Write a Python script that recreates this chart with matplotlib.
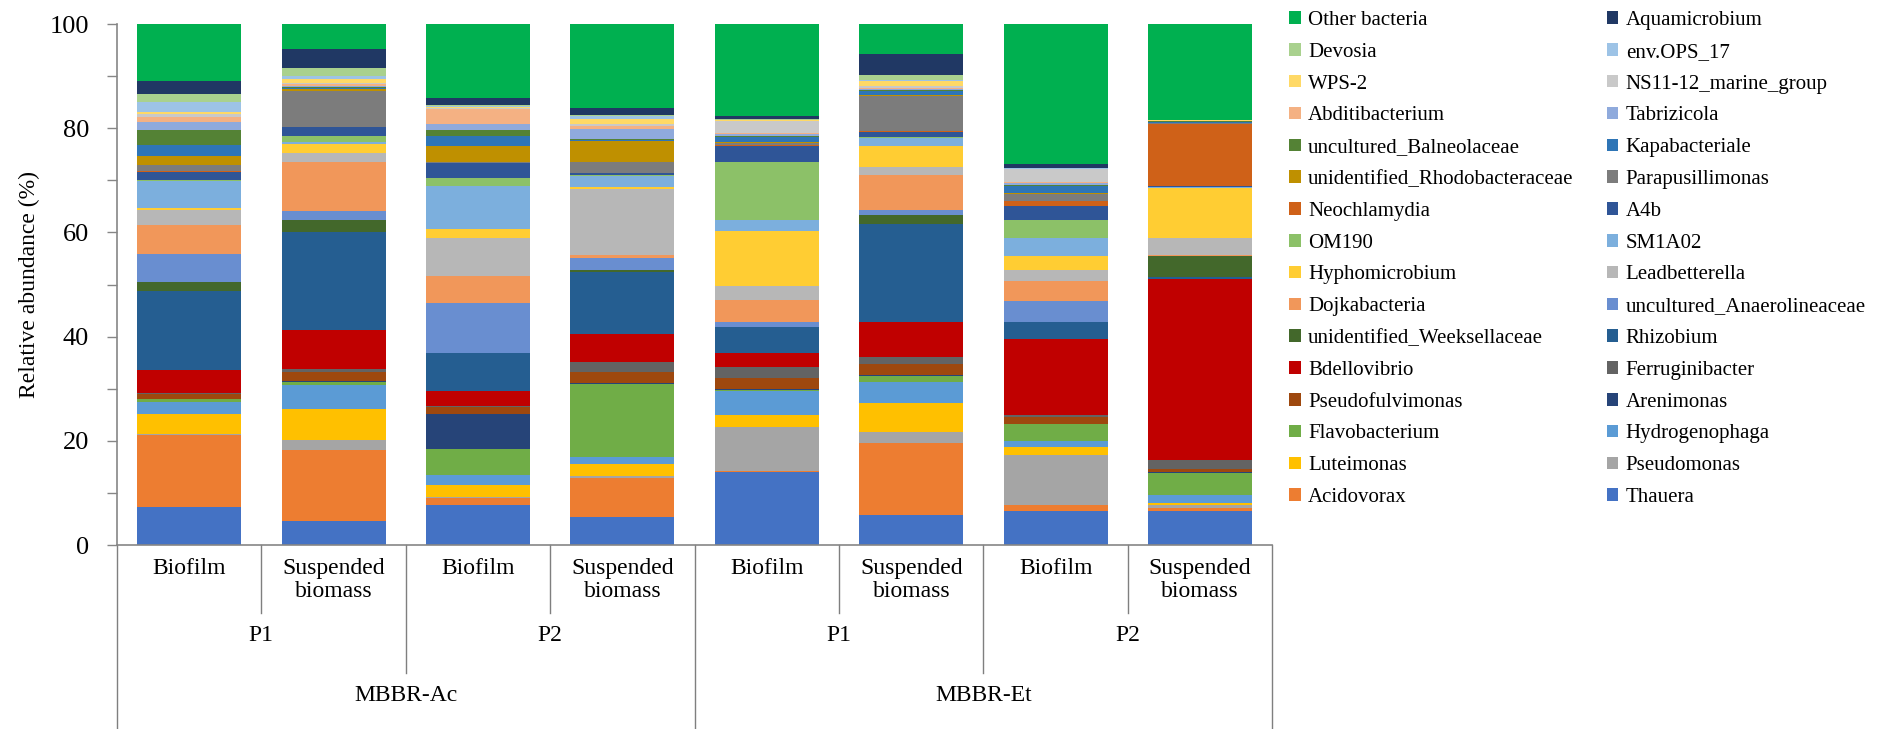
import matplotlib
matplotlib.use("Agg")
import matplotlib.pyplot as plt
from matplotlib.patches import Patch
from matplotlib.ticker import MultipleLocator
import numpy as np

plt.rcParams['font.family'] = 'serif'
plt.rcParams['font.serif'] = ['Liberation Serif', 'Times New Roman', 'DejaVu Serif']

# genera from the bottom of each stack to the top
genera = ["Thauera", "Acidovorax", "Pseudomonas", "Luteimonas", "Hydrogenophaga",
          "Flavobacterium", "Arenimonas", "Pseudofulvimonas", "Ferruginibacter",
          "Bdellovibrio", "Rhizobium", "unidentified_Weeksellaceae",
          "uncultured_Anaerolineaceae", "Dojkabacteria", "Leadbetterella",
          "Hyphomicrobium", "SM1A02", "OM190", "A4b", "Neochlamydia",
          "Parapusillimonas", "unidentified_Rhodobacteraceae", "Kapabacteriale",
          "uncultured_Balneolaceae", "Tabrizicola", "Abditibacterium",
          "NS11-12_marine_group", "WPS-2", "env.OPS_17", "Devosia",
          "Aquamicrobium", "Other bacteria"]

colors = ["#4472C4", "#ED7D31", "#A5A5A5", "#FFC000", "#5B9BD5",
          "#70AD47", "#264478", "#9E480E", "#636363",
          "#C00000", "#255E91", "#43682B",
          "#698ED0", "#F1975A", "#B7B7B7",
          "#FFCD33", "#7CAFDD", "#8CC168", "#2F5597", "#CF6118",
          "#7C7C7C", "#BF9000", "#2E75B6",
          "#548235", "#8FAADC", "#F4B183",
          "#C9C9C9", "#FFD966", "#9DC3E6", "#A9D18E",
          "#203864", "#00B050"]

# relative abundance (%) per sample, same order as genera
ac_p1_biofilm = [7.2, 13.9, 0.2, 3.9, 2.3, 0.5, 0.1, 0.8, 0.3, 4.3, 15.2, 1.7, 5.4, 5.7, 2.8, 0.3,
                 5.2, 0.3, 1.5, 0.2, 1.1, 1.7, 2.2, 2.9, 1.5, 1.0, 0.5, 0.5, 1.8, 1.5, 2.5, 11.0]
ac_p1_suspended = [4.6, 13.6, 2.0, 6.0, 4.6, 0.5, 0.2, 1.8, 0.5, 7.4, 18.8, 2.3, 1.9, 9.4, 1.7, 1.6,
                   0.5, 1.2, 1.6, 0.1, 6.9, 0.4, 0.2, 0.2, 0.2, 0.2, 0.2, 0.8, 0.6, 1.5, 3.7, 4.8]
ac_p2_biofilm = [7.6, 1.4, 0.3, 2.3, 1.8, 5.0, 6.8, 1.3, 0.2, 2.8, 7.3, 0.1, 9.5, 5.2, 7.4, 1.7,
                 8.3, 1.4, 2.9, 0.1, 0.2, 3.0, 2.0, 1.1, 1.1, 2.8, 0.3, 0.2, 0.2, 0.1, 1.5, 14.1]
ac_p2_suspended = [5.4, 7.5, 0.4, 2.3, 1.3, 14.1, 0.1, 2.1, 1.9, 5.4, 12.0, 0.2, 2.3, 0.7, 12.7, 0.3,
                   2.2, 0.2, 0.3, 0.1, 2.0, 4.0, 0.3, 0.2, 1.9, 0.5, 0.5, 0.9, 0.5, 0.2, 1.4, 16.1]
et_p1_biofilm = [14.1, 0.2, 8.4, 2.2, 4.6, 0.3, 0.1, 2.1, 2.2, 2.6, 5.0, 0.1, 0.9, 4.3, 2.6, 10.6,
                 2.0, 11.2, 3.1, 0.1, 0.4, 0.2, 1.1, 0.2, 0.2, 0.2, 2.4, 0.1, 0.1, 0.1, 0.7, 17.6]
et_p1_suspended = [5.8, 13.7, 2.2, 5.5, 4.0, 1.3, 0.1, 2.2, 1.3, 6.7, 18.9, 1.7, 1.0, 6.6, 1.6, 4.0,
                   1.6, 0.2, 0.9, 0.1, 6.8, 0.2, 0.8, 0.1, 0.3, 0.2, 0.3, 0.9, 0.3, 0.9, 4.0, 5.8]
et_p2_biofilm = [6.6, 1.0, 9.6, 1.7, 1.0, 3.3, 0.1, 1.3, 0.3, 14.6, 3.3, 0.1, 3.9, 3.9, 2.0, 2.7,
                 3.6, 3.3, 2.7, 1.0, 1.3, 0.3, 1.4, 0.2, 0.2, 0.3, 2.4, 0.1, 0.1, 0.1, 0.7, 26.9]
et_p2_suspended = [6.6, 0.5, 0.5, 0.5, 1.5, 4.3, 0.1, 0.6, 1.8, 34.7, 0.3, 4.0, 0.1, 0.1, 3.4, 9.6,
                   0.1, 0.1, 0.1, 12.0, 0.1, 0.1, 0.1, 0.1, 0.0, 0.1, 0.0, 0.1, 0.0, 0.0, 0.0, 18.5]

sample_labels = ["Biofilm", "Suspended\nbiomass"] * 4
phase_labels = ["P1", "P2", "P1", "P2"]
reactor_labels = ["MBBR-Ac", "MBBR-Et"]

data = np.array([ac_p1_biofilm, ac_p1_suspended, ac_p2_biofilm, ac_p2_suspended,
                 et_p1_biofilm, et_p1_suspended, et_p2_biofilm, et_p2_suspended]).T

fig = plt.figure(figsize=(18.85, 7.29), dpi=100)
ax = fig.add_axes([0.062, 0.2524, 0.613, 0.7146])

x = np.arange(data.shape[1])
bottom = np.zeros(data.shape[1])
for vals, col, name in zip(data, colors, genera):
    ax.bar(x, vals, bottom=bottom, width=0.72, color=col, label=name, linewidth=0)
    bottom += vals

ax.set_xlim(-0.5, len(x) - 0.5)
ax.set_ylim(0, 100)
ax.yaxis.set_major_locator(MultipleLocator(20))
ax.yaxis.set_minor_locator(MultipleLocator(10))
ax.tick_params(axis='y', which='both', direction='out', length=7, width=1,
               color='#868686', labelsize=19, pad=13)
ax.set_xticks([])
for s in ['top', 'right']:
    ax.spines[s].set_visible(False)
for s in ['left', 'bottom']:
    ax.spines[s].set_color('#868686')
    ax.spines[s].set_linewidth(1.2)
ax.set_ylabel("Relative abundance (%)", fontsize=17, labelpad=7)

# multi-level category axis
trans = ax.get_xaxis_transform()
line_kw = dict(color='#7f7f7f', lw=1, clip_on=False, transform=trans)
for i, lab in enumerate(sample_labels):
    ax.text(i, -0.025, lab, ha='center', va='top', fontsize=17,
            linespacing=1.15, transform=trans)
for j, lab in enumerate(phase_labels):
    ax.text(2 * j + 0.5, -0.173, lab, ha='center', va='center', fontsize=17,
            transform=trans)
for k, lab in enumerate(reactor_labels):
    ax.text(4 * k + 1.5, -0.288, lab, ha='center', va='center', fontsize=17,
            transform=trans)
for xs in [0.5, 2.5, 4.5, 6.5]:
    ax.plot([xs, xs], [0, -0.13], **line_kw)
for xs in [1.5, 5.5]:
    ax.plot([xs, xs], [0, -0.246], **line_kw)
for xs in [-0.5, 3.5, 7.5]:
    ax.plot([xs, xs], [0, -0.36], **line_kw)

# legend, two columns read row by row from the top of the stack
handles = [Patch(facecolor=c, edgecolor='none') for c in colors][::-1]
labels = genera[::-1]
order = list(range(0, len(labels), 2)) + list(range(1, len(labels), 2))
fig.legend([handles[i] for i in order], [labels[i] for i in order],
           ncol=2, loc='upper left', bbox_to_anchor=(0.684, 0.985),
           frameon=False, fontsize=15, handlelength=0.55, handleheight=0.55,
           handletextpad=0.35, labelspacing=0.615, columnspacing=1.6,
           borderpad=0, borderaxespad=0)

fig.savefig("out.png", dpi=100)
